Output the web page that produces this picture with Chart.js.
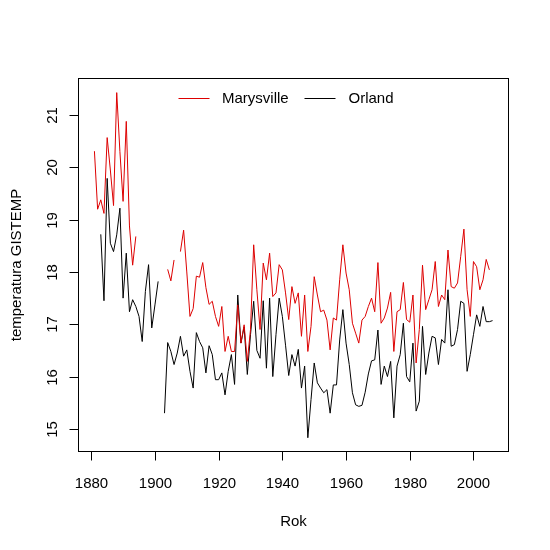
<!DOCTYPE html>
<html>
<head>
<meta charset="utf-8">
<script src="https://cdn.jsdelivr.net/npm/chart.js@4.4.0/dist/chart.umd.min.js"></script>
<style>
html,body{margin:0;padding:0;background:#fff;}
#wrap{width:550px;height:550px;}
</style>
</head>
<body>
<div id="wrap"><canvas id="c" width="550" height="550"></canvas></div>
<script>
// ---- data ----
const firstYear = 1881;
const lastYear = 2006;
const seriesNames = ["Marysville", "Orland"];
const seriesColors = ["#dd0000", "#000000"];

const marysville = [
  20.31, 19.20, 19.38, 19.12, 20.57, 19.95, 19.27, 21.43, 20.30, 19.35,
  20.88, 18.88, 18.13, 18.68, null, null, null, null, null, null,
  null, null, null, 18.05, 17.83, 18.23, null, 18.39, 18.80, 18.00,
  17.15, 17.30, 17.92, 17.90, 18.18, 17.70, 17.38, 17.44, 17.15, 16.96,
  17.34, 16.48, 16.77, 16.48, 16.48, 17.37, 16.64, 16.99, 16.29, 16.90,
  18.52, 17.66, 16.90, 18.17, 17.85, 18.36, 17.53, 17.60, 18.14, 18.04,
  17.60, 17.09, 17.72, 17.40, 17.60, 16.77, 17.56, 16.48, 16.96, 17.91,
  17.56, 17.24, 17.27, 17.08, 16.51, 17.12, 17.08, 17.85, 18.52, 17.98,
  17.66, 17.02, 16.83, 16.64, 17.08, 17.15, 17.34, 17.50, 17.24, 18.18,
  17.02, 17.12, 17.31, 17.61, 16.48, 17.24, 17.28, 17.80, 17.09, 17.04,
  17.56, 16.26, 16.90, 18.13, 17.28, 17.47, 17.66, 18.20, 17.34, 17.56,
  17.47, 18.42, 17.72, 17.69, 17.79, 18.30, 18.82, 17.66, 17.15, 18.20,
  18.10, 17.66, 17.85, 18.24, 18.04, null
];

const orland = [
  null, null, 18.72, 17.45, 19.79, 18.55, 18.39, 18.71, 19.22, 17.50,
  18.36, 17.24, 17.47, 17.34, 17.15, 16.67, 17.63, 18.14, 16.93, 17.37,
  17.82, null, 15.30, 16.65, 16.48, 16.23, 16.45, 16.77, 16.39, 16.51,
  16.10, 15.78, 16.84, 16.67, 16.55, 16.07, 16.59, 16.42, 15.94, 15.94,
  16.07, 15.65, 16.10, 16.42, 15.85, 17.56, 16.64, 16.95, 16.04, 16.80,
  17.44, 16.50, 16.35, 17.45, 16.16, 17.50, 16.00, 16.80, 17.50, 17.15,
  16.60, 16.02, 16.42, 16.20, 16.52, 15.78, 16.20, 14.83, 15.56, 16.26,
  15.88, 15.78, 15.69, 15.75, 15.30, 15.84, 15.84, 16.70, 17.28, 16.64,
  16.23, 15.69, 15.46, 15.43, 15.45, 15.70, 16.05, 16.30, 16.32, 16.89,
  15.85, 16.20, 16.00, 16.29, 15.21, 16.20, 16.42, 17.02, 16.00, 15.90,
  16.64, 15.34, 15.53, 16.96, 16.04, 16.45, 16.77, 16.74, 16.23, 16.71,
  16.64, 17.66, 16.58, 16.61, 16.90, 17.44, 17.40, 16.10, 16.42, 16.80,
  17.18, 16.96, 17.34, 17.05, 17.05, 17.07
];

const xTicks = [1880, 1900, 1920, 1940, 1960, 1980, 2000];
const yTicks = [15, 16, 17, 18, 19, 20, 21];
const xTitle = "Rok";
const yTitle = "temperatura GISTEMP";

// ---- build ----
const years = [];
for (let y = firstYear; y <= lastYear; y++) years.push(y);
function pts(vals) { return years.map((yr, i) => ({ x: yr, y: vals[i] })); }

const xMin = 1876, xMax = 2011;
const yMin = 14.567, yMax = 21.70;
const FONT = '"Liberation Sans", Arial, sans-serif';
const FS = 15;

const rAxes = {
  id: 'rAxes',
  afterDraw(chart) {
    const ctx = chart.ctx;
    const a = chart.chartArea;
    const xs = chart.scales.x, ys = chart.scales.y;
    ctx.save();
    ctx.strokeStyle = '#000';
    ctx.lineWidth = 1;
    ctx.strokeRect(a.left, a.top, a.right - a.left, a.bottom - a.top);
    ctx.fillStyle = '#000';
    ctx.font = FS + 'px ' + FONT;
    // x axis ticks
    ctx.textAlign = 'center';
    ctx.textBaseline = 'middle';
    xTicks.forEach(t => {
      const px = Math.round(xs.getPixelForValue(t)) + 0.5;
      ctx.beginPath();
      ctx.moveTo(px, a.bottom);
      ctx.lineTo(px, a.bottom + 9);
      ctx.stroke();
      ctx.fillText(String(t), px, a.bottom + 32);
    });
    // y axis ticks
    yTicks.forEach(t => {
      const py = Math.round(ys.getPixelForValue(t)) + 0.5;
      ctx.beginPath();
      ctx.moveTo(a.left, py);
      ctx.lineTo(a.left - 9, py);
      ctx.stroke();
      ctx.save();
      ctx.translate(a.left - 26, py);
      ctx.rotate(-Math.PI / 2);
      ctx.fillText(String(t), 0, 0);
      ctx.restore();
    });
    // titles
    ctx.fillText(xTitle, (a.left + a.right) / 2, a.bottom + 70);
    ctx.save();
    ctx.translate(17, (a.top + a.bottom) / 2);
    ctx.rotate(-Math.PI / 2);
    ctx.fillText(yTitle, 0, 0);
    ctx.restore();
    // legend
    const ly = 98.5;
    const items = [
      { x0: 178.5, x1: 209.5, tx: 222 },
      { x0: 304.5, x1: 335.5, tx: 348.5 }
    ];
    ctx.textAlign = 'left';
    items.forEach((it, i) => {
      ctx.strokeStyle = seriesColors[i];
      ctx.beginPath();
      ctx.moveTo(it.x0, ly);
      ctx.lineTo(it.x1, ly);
      ctx.stroke();
      ctx.fillStyle = '#000';
      ctx.fillText(seriesNames[i], it.tx, ly);
    });
    ctx.restore();
  }
};

new Chart(document.getElementById('c'), {
  type: 'line',
  data: {
    datasets: [
      { label: seriesNames[0], data: pts(marysville), borderColor: seriesColors[0], borderWidth: 1, pointRadius: 0, tension: 0, spanGaps: false, fill: false },
      { label: seriesNames[1], data: pts(orland), borderColor: seriesColors[1], borderWidth: 1, pointRadius: 0, tension: 0, spanGaps: false, fill: false }
    ]
  },
  options: {
    responsive: false,
    animation: false,
    devicePixelRatio: 1,
    layout: { padding: { left: 78.5, top: 78.5, right: 41.5, bottom: 98.5 } },
    plugins: { legend: { display: false }, tooltip: { enabled: false } },
    scales: {
      x: { type: 'linear', min: xMin, max: xMax, display: false },
      y: { type: 'linear', min: yMin, max: yMax, display: false }
    }
  },
  plugins: [rAxes]
});
</script>
</body>
</html>
